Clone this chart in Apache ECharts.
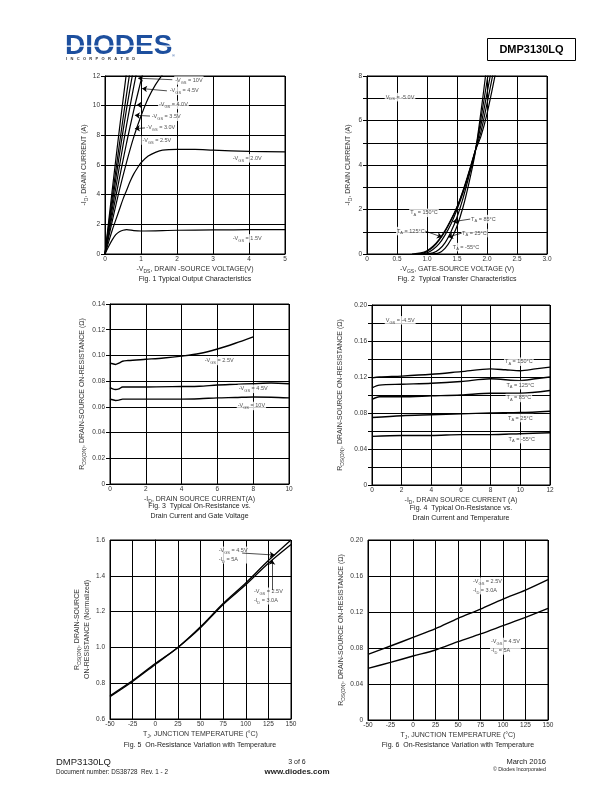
<!DOCTYPE html>
<html><head><meta charset="utf-8">
<script src="https://cdn.jsdelivr.net/npm/echarts@6/dist/echarts.min.js"></script>
<style>html,body{margin:0;padding:0;background:#fff}#c{width:612px;height:792px}</style>
</head><body><div id="c"></div>
<script>
// ---------------- DATA ----------------
// Fig 1: -ID vs -VDS for various -VGS
const fig1_vgs10 = [[0,0],[0.2,4.3],[0.4,8.4],[0.6,12.3]];
const fig1_vgs45 = [[0,0],[0.2,3.8],[0.4,7.4],[0.6,10.8],[0.7,12.4]];
const fig1_vgs40 = [[0,0],[0.2,3.4],[0.4,6.7],[0.6,9.8],[0.8,12.6]];
const fig1_vgs35 = [[0,0],[0.2,3.0],[0.4,5.9],[0.6,8.7],[0.8,11.3],[0.9,12.5]];
const fig1_vgs30 = [[0,0],[0.2,2.6],[0.4,5.1],[0.6,7.5],[0.8,9.7],[1.0,11.7],[1.05,12.2]];
const fig1_vgs25 = [[0,0],[0.2,2.2],[0.4,4.3],[0.6,6.2],[0.8,7.9],[1.0,9.3],[1.2,10.5],[1.4,11.4],[1.6,12.1]];
const fig1_vgs20 = [[0,0],[0.1,0.8],[0.2,1.6],[0.3,2.3],[0.4,3.0],[0.5,3.7],[0.6,4.3],[0.7,4.9],[0.8,5.4],[0.9,5.8],[1.0,6.15],[1.2,6.6],[1.4,6.85],[1.6,7.0],[2,7.05],[2.5,7.05],[3,7.0],[4,6.92],[5,6.88]];
const fig1_vgs15 = [[0,0],[0.1,0.5],[0.2,0.95],[0.3,1.3],[0.4,1.5],[0.5,1.6],[0.6,1.65],[0.8,1.58],[1,1.55],[2,1.6],[3,1.62],[4,1.65],[5,1.65]];
// Fig 2: -ID vs -VGS for various TA
const fig2_t150 = [[0.75,0],[0.9,0.05],[1.0,0.15],[1.1,0.35],[1.2,0.65],[1.3,1.05],[1.4,1.55],[1.5,2.1],[1.6,2.85],[1.7,3.7],[1.8,4.6],[1.9,5.3],[2.0,6.3],[2.14,8.1]];
const fig2_t125 = [[0.8,0],[0.95,0.05],[1.05,0.2],[1.15,0.45],[1.25,0.8],[1.35,1.25],[1.45,1.8],[1.55,2.45],[1.65,3.2],[1.75,4.1],[1.8,4.6],[1.9,5.5],[2.1,8.1]];
const fig2_t85 = [[0.85,0],[1.0,0.05],[1.1,0.2],[1.2,0.45],[1.3,0.85],[1.4,1.35],[1.5,2.0],[1.6,2.75],[1.7,3.65],[1.8,4.6],[1.9,5.8],[2.06,8.1]];
const fig2_t25 = [[0.95,0],[1.1,0.05],[1.2,0.2],[1.3,0.5],[1.4,1.0],[1.5,1.65],[1.6,2.5],[1.7,3.5],[1.8,4.55],[1.9,6.1],[2.02,8.1]];
const fig2_tm55 = [[1.05,0],[1.2,0.05],[1.3,0.25],[1.4,0.65],[1.5,1.25],[1.6,2.1],[1.7,3.2],[1.8,4.5],[1.9,6.4],[1.98,8.1]];
// Fig 3: RDS(ON) vs -ID for various -VGS
const fig3_vgs25 = [[0,0.094],[0.15,0.0935],[0.3,0.093],[0.5,0.094],[0.7,0.0955],[1,0.096],[2,0.097],[3,0.098],[4,0.0995],[5,0.1015],[6,0.105],[7,0.1095],[8,0.1145]];
const fig3_vgs45 = [[0,0.075],[0.15,0.074],[0.3,0.0735],[0.5,0.074],[0.7,0.0755],[1,0.0755],[2,0.0755],[4,0.0758],[5,0.076],[6,0.077],[7,0.0775],[8,0.078],[9,0.0785],[10,0.078]];
const fig3_vgs10 = [[0,0.066],[0.15,0.0655],[0.3,0.065],[0.5,0.0652],[0.7,0.066],[1,0.066],[2,0.066],[4,0.066],[5,0.0663],[6,0.067],[7,0.0673],[8,0.0677],[9,0.0675],[10,0.067]];
// Fig 4: RDS(ON) vs -ID for various TA (VGS=-4.5V)
const fig4_t150 = [[0,0.119],[0.5,0.120],[2,0.121],[4,0.123],[6,0.126],[8,0.129],[9,0.128],[10,0.127],[11,0.129],[12,0.131]];
const fig4_t125 = [[0,0.108],[0.5,0.111],[2,0.112],[4,0.113],[6,0.115],[8,0.118],[10,0.116],[11,0.118],[12,0.120]];
const fig4_t85 = [[0,0.095],[0.5,0.098],[2,0.098],[4,0.099],[6,0.100],[8,0.102],[10,0.102],[12,0.105]];
const fig4_t25 = [[0,0.075],[2,0.077],[4,0.078],[6,0.079],[8,0.080],[10,0.0805],[12,0.082]];
const fig4_tm55 = [[0,0.054],[2,0.055],[4,0.055],[6,0.056],[8,0.056],[10,0.057],[12,0.058]];
// Fig 5: normalized RDS(ON) vs TJ
const fig5_temps = [-50,-25,0,25,50,75,100,125,150];
const fig5_vgs45 = [0.73,0.815,0.91,1.0,1.115,1.245,1.36,1.485,1.6];
const fig5_vgs25 = [0.725,0.81,0.905,1.0,1.11,1.24,1.35,1.47,1.575];
// Fig 6: RDS(ON) vs TJ
const fig6_temps = [-50,-25,0,25,50,75,100,125,150];
const fig6_vgs25 = [0.073,0.0822,0.0918,0.1015,0.113,0.1233,0.1344,0.1444,0.156];
const fig6_vgs45 = [0.0574,0.064,0.0711,0.0778,0.087,0.0956,0.1048,0.114,0.124];

// annotation texts (anchor in data units)
const fig1_notes = [
 {t:'-V{s|GS} = 10V', x:2.33, y:11.7},
 {t:'-V{s|GS} = 4.5V', x:2.2, y:11.0},
 {t:'-V{s|GS} = 4.0V', x:1.9, y:10.05},
 {t:'-V{s|GS} = 3.5V', x:1.7, y:9.25},
 {t:'-V{s|GS} = 3.0V', x:1.55, y:8.5},
 {t:'-V{s|GS} = 2.5V', x:1.44, y:7.65},
 {t:'-V{s|GS} = 2.0V', x:3.95, y:6.45},
 {t:'-V{s|GS} = 1.5V', x:3.95, y:1.05}];
const fig1_arrows = [[[1.87,11.75],[0.92,11.85]],[[1.72,11.0],[1.03,11.15]],[[1.46,10.05],[0.88,10.05]],[[1.25,9.3],[0.83,9.35]],[[1.11,8.5],[0.83,8.45]]];
const fig2_notes = [
 {t:'V{s|DS} = -5.0V', x:0.55, y:7.05},
 {t:'T{s|A} = 150°C', x:0.95, y:1.85},
 {t:'T{s|A} = 85°C', x:1.94, y:1.57},
 {t:'T{s|A} = 125°C', x:0.73, y:1.03},
 {t:'T{s|A} = 25°C', x:1.79, y:0.94},
 {t:'T{s|A} = -55°C', x:1.65, y:0.31}];
const fig2_arrows = [[[1.72,1.57],[1.43,1.45]],[[0.97,1.03],[1.25,0.76]],[[1.58,0.94],[1.35,0.76]]];
const fig3_notes = [
 {t:'-V{s|GS} = 2.5V', x:6.1, y:0.0957},
 {t:'-V{s|GS} = 4.5V', x:8.0, y:0.074},
 {t:'-V{s|GS} = 10V', x:7.9, y:0.0607}];
const fig4_notes = [
 {t:'V{s|GS} = -4.5V', x:1.9, y:0.183},
 {t:'T{s|A} = 150°C', x:9.9, y:0.137},
 {t:'T{s|A} = 125°C', x:10.0, y:0.111},
 {t:'T{s|A} = 85°C', x:9.9, y:0.0967},
 {t:'T{s|A} = 25°C', x:10.0, y:0.0744},
 {t:'T{s|A} = -55°C', x:10.1, y:0.051}];
const fig5_notes = [
 {t:'-V{s|GS} = 4.5V\n-I{s|D} = 5A', x:69, y:1.516, align:'left'},
 {t:'-V{s|GS} = 2.5V\n-I{s|D} = 3.0A', x:108, y:1.287, align:'left'}];
const fig5_arrows = [[[96,1.527],[132,1.516]],[[129,1.32],[129,1.49]]];
const fig6_notes = [
 {t:'-V{s|GS} = 2.5V\n-I{s|D} = 3.0A', x:65.6, y:0.149, align:'left'},
 {t:'-V{s|GS} = 4.5V\n-I{s|D} = 5A', x:85.6, y:0.082, align:'left'}];

// ---------------- CHART ----------------
const FONT = '"Liberation Sans", Arial, Helvetica, sans-serif';
const chart = echarts.init(document.getElementById('c'), null, {renderer:'canvas'});

function rich(size, color){
  const ss = Math.round(size*0.72*10)/10;
  return { fontFamily: FONT, fontSize: size, color: color, lineHeight: size+3,
    rich: { s: { fontFamily: FONT, fontSize: ss, color: color, lineHeight: ss+1, verticalAlign: 'bottom' } } };
}

const grids = [
  {left:105, top:76, width:180, height:178},
  {left:367, top:76, width:180, height:178},
  {left:110, top:304, width:179, height:180},
  {left:372, top:305, width:178, height:180},
  {left:110, top:540, width:181, height:179},
  {left:368, top:540, width:180, height:180}
].map(g => Object.assign({show:true, borderColor:'#000', borderWidth:1, containLabel:false}, g));

function xAx(i, min, max, interval, fmt, name, gap){
  return { gridIndex:i, type:'value', min, max, interval,
    axisLine:{show:true, lineStyle:{color:'#000', width:1}},
    axisTick:{show:false},
    splitLine:{show:true, lineStyle:{color:'#000', width:1}},
    axisLabel:{fontFamily:FONT, fontSize:6.5, color:'#333', margin:2, formatter:fmt, showMinLabel:true, showMaxLabel:true},
    name, nameLocation:'middle', nameGap:gap, nameTextStyle: rich(7, '#333') };
}
function yAx(i, min, max, interval, fmt, name, gap){
  return { gridIndex:i, type:'value', min, max, interval,
    axisLine:{show:true, lineStyle:{color:'#000', width:1}},
    axisTick:{show:true, length:4, lineStyle:{color:'#000', width:1}},
    splitLine:{show:true, lineStyle:{color:'#000', width:1}},
    axisLabel:{fontFamily:FONT, fontSize:6.5, color:'#333', margin:5, formatter:fmt, showMinLabel:true, showMaxLabel:true},
    name, nameLocation:'middle', nameGap:gap, nameTextStyle: rich(7, '#333') };
}
const fInt = v => String(Math.round(v));
const f1 = v => Math.abs(v) < 1e-9 ? '0' : v.toFixed(1);
const f2 = v => Math.abs(v) < 1e-9 ? '0' : v.toFixed(2);

const xAxes = [
  xAx(0, 0, 5, 1, fInt, '-V{s|DS}, DRAIN -SOURCE VOLTAGE(V)', 8),
  xAx(1, 0, 3, 0.5, f1, '-V{s|GS}, GATE-SOURCE VOLTAGE (V)', 8),
  xAx(2, 0, 10, 2, fInt, '-I{s|D}, DRAIN SOURCE CURRENT(A)', 4),
  xAx(3, 0, 12, 2, fInt, '-I{s|D}, DRAIN SOURCE CURRENT (A)', 4),
  xAx(4, -50, 150, 25, fInt, 'T{s|J}, JUNCTION TEMPERATURE (°C)', 7),
  xAx(5, -50, 150, 25, fInt, 'T{s|J}, JUNCTION TEMPERATURE (°C)', 6)
];
const yAxes = [
  yAx(0, 0, 12, 2, fInt, '-I{s|D}, DRAIN CURRENT (A)', 9),
  yAx(1, 0, 8, 1, v => (Math.round(v)%2===0 ? fInt(v) : ''), '-I{s|D}, DRAIN CURRENT (A)', 14),
  yAx(2, 0, 0.14, 0.02, f2, 'R{s|DS(ON)}, DRAIN-SOURCE ON-RESISTANCE (Ω)', 23),
  yAx(3, 0, 0.2, 0.02, v => (Math.round(v*100)%4===0 ? f2(v) : ''), 'R{s|DS(ON)}, DRAIN-SOURCE ON-RESISTANCE (Ω)', 27),
  yAx(4, 0.6, 1.6, 0.2, f1, 'R{s|DS(ON)}, DRAIN-SOURCE\nON-RESISTANCE (Normalized)', 18),
  yAx(5, 0, 0.2, 0.04, f2, 'R{s|DS(ON)}, DRAIN-SOURCE ON-RESISTANCE (Ω)', 20)
];

const series = [];
function line(i, data, w){
  series.push({type:'line', xAxisIndex:i, yAxisIndex:i, data, showSymbol:false, symbol:'none', smooth:0.3,
    lineStyle:{color:'#000', width:w||1.3}, silent:true, clip:true, z:3});
}
function zip(xs, ys){ return xs.map((x,k)=>[x, ys[k]]); }
function notes(i, arr, size){
  series.push({type:'scatter', xAxisIndex:i, yAxisIndex:i, symbolSize:0.1, itemStyle:{color:'transparent'}, silent:true, z:10,
    data: arr.map(n => ({value:[n.x, n.y], label:{formatter:n.t, align:n.align||'center'}})),
    label:Object.assign({show:true, position:'inside', backgroundColor:'#fff', padding:[0,1]}, rich(size||5.5, '#222'))});
}
function arrows(i, arr){
  series.push({type:'lines', coordinateSystem:'cartesian2d', xAxisIndex:i, yAxisIndex:i, silent:true, z:11,
    symbol:['none','arrow'], symbolSize:[0,5], lineStyle:{color:'#000', width:0.7, opacity:1},
    data: arr.map(a => ({coords:a}))});
}

[fig1_vgs10, fig1_vgs45, fig1_vgs40, fig1_vgs35, fig1_vgs30, fig1_vgs25, fig1_vgs20, fig1_vgs15].forEach(d => line(0, d, 1.2));
[fig2_t150, fig2_t125, fig2_t85, fig2_t25, fig2_tm55].forEach(d => line(1, d, 1.2));
[fig3_vgs25, fig3_vgs45, fig3_vgs10].forEach(d => line(2, d, 1.4));
[fig4_t150, fig4_t125, fig4_t85, fig4_t25, fig4_tm55].forEach(d => line(3, d, 1.4));
line(4, zip(fig5_temps, fig5_vgs45), 1.3); line(4, zip(fig5_temps, fig5_vgs25), 1.3);
line(5, zip(fig6_temps, fig6_vgs25), 1.4); line(5, zip(fig6_temps, fig6_vgs45), 1.4);

notes(0, fig1_notes); arrows(0, fig1_arrows);
notes(1, fig2_notes); arrows(1, fig2_arrows);
notes(2, fig3_notes);
notes(3, fig4_notes);
notes(4, fig5_notes); arrows(4, fig5_arrows);
notes(5, fig6_notes);

function txt(x, y, text, size, opts){
  return {type:'text', x, y, silent:true, z:20,
    style:Object.assign({text, fontFamily:FONT, fontSize:size, fill:'#222', align:'center', verticalAlign:'middle'}, (opts&&opts.style)||{})};
}
const graphic = [
  // header logo
  {type:'text', x:65, y:46, silent:true, style:{text:'DIODES', fontFamily:FONT, fontWeight:900, fontSize:28, fill:'#1d4f9e', align:'left', verticalAlign:'middle'}},
  {type:'rect', shape:{x:64, y:45.5, width:108, height:1.2}, style:{fill:'#fff'}, silent:true, z:2},
  {type:'text', x:66, y:59, silent:true, style:{text:'I   N   C   O   R   P   O   R   A   T   E   D', fontFamily:FONT, fontWeight:'bold', fontSize:4, fill:'#333', align:'left', verticalAlign:'middle'}},
  {type:'text', x:172, y:56, silent:true, style:{text:'®', fontFamily:FONT, fontSize:4, fill:'#1d4f9e', align:'left', verticalAlign:'middle'}},
  {type:'rect', shape:{x:487.5, y:38.5, width:88, height:22}, style:{fill:'none', stroke:'#000', lineWidth:1}, silent:true},
  txt(531.5, 50, 'DMP3130LQ', 11, {style:{fontWeight:'bold', fill:'#000'}}),
  // captions
  txt(195, 279, 'Fig. 1 Typical Output Characteristics', 7),
  txt(457, 279, 'Fig. 2  Typical Transfer Characteristics', 7),
  txt(199.5, 506, 'Fig. 3  Typical On-Resistance vs.', 7),
  txt(199.5, 516, 'Drain Current and Gate Voltage', 7),
  txt(461, 508, 'Fig. 4  Typical On-Resistance vs.', 7),
  txt(461, 518, 'Drain Current and Temperature', 7),
  txt(200, 745, 'Fig. 5  On-Resistance Variation with Temperature', 7),
  txt(458, 745, 'Fig. 6  On-Resistance Variation with Temperature', 7),
  // footer
  txt(56, 762, 'DMP3130LQ', 9.5, {style:{align:'left'}}),
  txt(56, 772, 'Document number: DS38728  Rev. 1 - 2', 6.3, {style:{align:'left'}}),
  txt(297, 762, '3 of 6', 7),
  txt(297, 771.5, 'www.diodes.com', 8, {style:{fontWeight:'bold'}}),
  txt(546, 762, 'March 2016', 7.5, {style:{align:'right'}}),
  txt(546, 770, '© Diodes Incorporated', 5.3, {style:{align:'right'}})
];

chart.setOption({
  animation:false,
  backgroundColor:'#fff',
  textStyle:{fontFamily:FONT},
  grid: grids, xAxis: xAxes, yAxis: yAxes, series, graphic
});
</script></body></html>
